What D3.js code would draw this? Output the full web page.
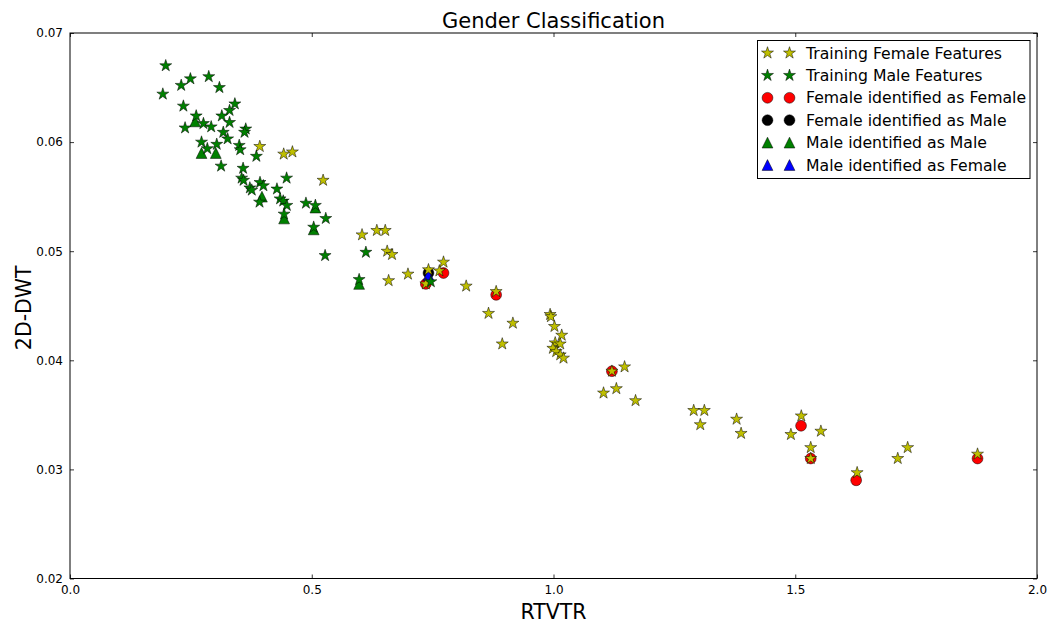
<!DOCTYPE html>
<html><head><meta charset="utf-8">
<script src="https://cdn.jsdelivr.net/npm/d3@7"></script>
<style>body{margin:0;background:#fff}svg{display:block}text{font-family:"DejaVu Sans",sans-serif;fill:#000}</style>
</head><body><svg id="c" width="1047" height="623"></svg>
<script>
const title = "Gender Classification";
const xLabel = "RTVTR";
const yLabel = "2D-DWT";
const xTicks = [0.0, 0.5, 1.0, 1.5, 2.0];
const yTicks = [0.02, 0.03, 0.04, 0.05, 0.06, 0.07];

const trainFemale = [
[0.3925,0.0596],[0.442,0.0589],[0.460,0.0591],[0.5235,0.0565],[0.604,0.0515],[0.6346,0.0519],[0.652,0.0519],
[0.656,0.0500],[0.666,0.0497],[0.659,0.0473],[0.699,0.0479],[0.7414,0.0483],[0.736,0.0470],[0.764,0.0482],
[0.7725,0.0490],[0.8194,0.0468],[0.8814,0.0463],[0.8656,0.0443],[0.916,0.0434],[0.894,0.0415],[0.993,0.0442],
[0.9946,0.0440],[1.002,0.0431],[1.017,0.0423],[1.0035,0.0416],[1.0139,0.0415],[0.9987,0.0411],[1.0056,0.0408],
[1.0139,0.0405],[1.0207,0.0402],[1.1208,0.0390],[1.147,0.0394],[1.1035,0.0370],[1.130,0.0374],[1.1697,0.0363],
[1.290,0.0354],[1.312,0.0354],[1.3036,0.0341],[1.3787,0.0346],[1.388,0.0333],[1.5125,0.0349],[1.491,0.0332],
[1.553,0.0335],[1.532,0.0320],[1.532,0.0310],[1.628,0.0297],[1.712,0.0310],[1.7325,0.0320],[1.877,0.0314]
];
const trainMale = [
[0.198,0.0670],[0.192,0.0644],[0.230,0.0652],[0.249,0.0658],[0.287,0.0660],[0.309,0.0650],[0.2345,0.0633],
[0.341,0.0635],[0.330,0.0629],[0.314,0.0624],[0.261,0.0624],[0.276,0.0617],[0.292,0.0614],[0.238,0.0613],
[0.330,0.0618],[0.317,0.0609],[0.326,0.0603],[0.3635,0.0612],[0.361,0.0609],[0.272,0.0600],[0.284,0.0594],
[0.3035,0.0598],[0.3125,0.0578],[0.350,0.0597],[0.352,0.0593],[0.3855,0.0587],[0.358,0.0576],[0.355,0.0567],
[0.359,0.0565],[0.448,0.0567],[0.372,0.0558],[0.376,0.0556],[0.393,0.0563],[0.400,0.0560],[0.392,0.0545],
[0.428,0.0557],[0.4345,0.0548],[0.441,0.0546],[0.4485,0.0542],[0.4428,0.0534],[0.488,0.0544],[0.5075,0.0542],
[0.529,0.0530],[0.504,0.0522],[0.5276,0.0496],[0.612,0.0499],[0.598,0.0474],[0.7463,0.0472]
];
const femaleAsFemale = [[0.736,0.0470],[0.7725,0.0480],[0.8814,0.0460],[1.1208,0.0390],[1.512,0.0340],[1.532,0.0310],[1.626,0.0290],[1.877,0.0310]];
const femaleAsMale = [[0.7414,0.0480]];
const maleAsMale = [[0.2587,0.0619],[0.272,0.0590],[0.3015,0.0590],[0.397,0.0550],[0.4428,0.0530],[0.5075,0.0540],[0.504,0.0520],[0.598,0.0470]];
const maleAsFemale = [[0.7414,0.0478]];

const legendLabels = ["Training Female Features","Training Male Features","Female identified as Female","Female identified as Male","Male identified as Male","Male identified as Female"];

const svg = d3.select("#c");
const L = 70, R = 1037, T = 33, B = 578.5;
const x = d3.scaleLinear().domain([0, 2]).range([L, R]);
const y = d3.scaleLinear().domain([0.02, 0.07]).range([B, T]);

function starPath(r) {
  const ri = r * 0.381966; let p = "";
  for (let i = 0; i < 10; i++) {
    const a = -Math.PI / 2 + i * Math.PI / 5, rr = i % 2 ? ri : r;
    p += (i ? "L" : "M") + (rr * Math.cos(a)).toFixed(2) + "," + (rr * Math.sin(a)).toFixed(2);
  }
  return p + "Z";
}
function triPath(s) { const h = s / 2; return `M0,${-h}L${h},${h}L${-h},${h}Z`; }
const markers = {
  starY: {d: starPath(6.3), fill: "#bfbf00"},
  starG: {d: starPath(6.3), fill: "#008000"},
  circR: {r: 5.4, fill: "#ff0000"},
  circK: {r: 5.4, fill: "#000000"},
  triG: {d: triPath(10.8), fill: "#008000"},
  triB: {d: triPath(10.8), fill: "#0000ff"}
};
function drawMarker(g, m, px, py) {
  if (m.r) g.append("circle").attr("cx", px).attr("cy", py).attr("r", m.r).attr("fill", m.fill).attr("stroke", "#000").attr("stroke-width", 0.5);
  else g.append("path").attr("d", m.d).attr("transform", `translate(${px},${py})`).attr("fill", m.fill).attr("stroke", "#000").attr("stroke-width", 0.5).attr("stroke-linejoin", "miter");
}

const plot = svg.append("g");
const series = [
  [femaleAsFemale, markers.circR], [femaleAsMale, markers.circK],
  [maleAsMale, markers.triG], [maleAsFemale, markers.triB],
  [trainFemale, markers.starY], [trainMale, markers.starG]
];
series.forEach(([data, m]) => data.forEach(d => drawMarker(plot, m, x(d[0]), y(d[1]))));

// axes with inward ticks on all sides
const axG = svg.append("g");
const xb = d3.axisBottom(x).tickValues(xTicks).tickFormat(d3.format(".1f")).tickSizeInner(-4).tickSizeOuter(0).tickPadding(7);
const yl = d3.axisLeft(y).tickValues(yTicks).tickFormat(d3.format(".2f")).tickSizeInner(-4).tickSizeOuter(0).tickPadding(7);
const xt = d3.axisTop(x).tickValues(xTicks).tickFormat("").tickSizeInner(-4).tickSizeOuter(0);
const yr = d3.axisRight(y).tickValues(yTicks).tickFormat("").tickSizeInner(-4).tickSizeOuter(0);
[[xb, `translate(0,${B})`], [yl, `translate(${L},0)`], [xt, `translate(0,${T})`], [yr, `translate(${R},0)`]].forEach(([a, t]) => {
  const g = axG.append("g").attr("transform", t).call(a);
  g.select(".domain").remove();
  g.selectAll("line").attr("stroke", "#000").attr("stroke-width", 0.8);
  g.selectAll("text").style("font-family", '"DejaVu Sans",sans-serif').style("font-size", "12px").attr("fill", "#000");
});
svg.append("rect").attr("x", L).attr("y", T).attr("width", R - L).attr("height", B - T).attr("fill", "none").attr("stroke", "#000").attr("stroke-width", 1);

svg.append("text").attr("x", (L + R) / 2).attr("y", 28).attr("text-anchor", "middle").style("font-size", "21px").text(title);
svg.append("text").attr("x", (L + R) / 2).attr("y", 619).attr("text-anchor", "middle").style("font-size", "20.5px").text(xLabel);
svg.append("text").attr("transform", `translate(31,${(T + B) / 2 + 2}) rotate(-90)`).attr("text-anchor", "middle").style("font-size", "20.5px").text(yLabel);

// legend
const lg = svg.append("g");
lg.append("rect").attr("x", 757.5).attr("y", 40.5).attr("width", 272.5).attr("height", 138).attr("fill", "#fff").attr("stroke", "#000").attr("stroke-width", 1);
const legMarkers = [markers.starY, markers.starG, markers.circR, markers.circK, markers.triG, markers.triB];
legendLabels.forEach((lab, i) => {
  const cy = 53 + i * 22.4;
  drawMarker(lg, legMarkers[i], 767.5, cy);
  drawMarker(lg, legMarkers[i], 789.5, cy);
  lg.append("text").attr("x", 806).attr("y", cy).attr("dy", "0.36em").style("font-size", "15.7px").text(lab);
});
</script></body></html>
